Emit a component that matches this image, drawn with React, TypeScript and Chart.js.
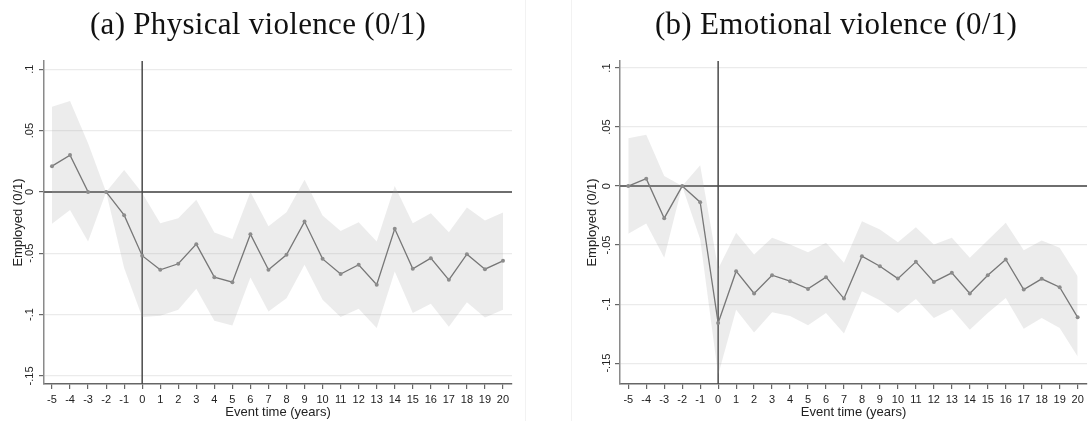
import React, { useEffect, useRef } from "react";
import { Chart, registerables } from "chart.js";

Chart.register(...registerables);

const EVENT_TIME = [-5, -4, -3, -2, -1, 0, 1, 2, 3, 4, 5, 6, 7, 8, 9, 10, 11, 12, 13, 14, 15, 16, 17, 18, 19, 20];
const X_TICKS = [-5, -4, -3, -2, -1, 0, 1, 2, 3, 4, 5, 6, 7, 8, 9, 10, 11, 12, 13, 14, 15, 16, 17, 18, 19, 20];
const Y_TICKS = [0.1, 0.05, 0, -0.05, -0.1, -0.15];
const Y_TICK_LABELS = [".1", ".05", "0", "-.05", "-.1", "-.15"];

const PHYS_COEF = [0.021, 0.030, 0, 0, -0.019, -0.052, -0.0635, -0.0586, -0.0426, -0.0695, -0.0736, -0.0345, -0.0635, -0.0513, -0.0242, -0.0546, -0.067, -0.0594, -0.0757, -0.0301, -0.0627, -0.054, -0.0717, -0.0508, -0.063, -0.0562];
const PHYS_HI = [0.0695, 0.074, 0.0396, 0, 0.0179, -0.001, -0.0255, -0.0214, -0.0065, -0.033, -0.0385, 0, -0.028, -0.0165, 0.0098, -0.0193, -0.0318, -0.0247, -0.0405, 0.0049, -0.0255, -0.0174, -0.0329, -0.0128, -0.0233, -0.0168];
const PHYS_LO = [-0.026, -0.0147, -0.0405, 0, -0.062, -0.102, -0.101, -0.096, -0.079, -0.105, -0.109, -0.0697, -0.0975, -0.0866, -0.0594, -0.088, -0.102, -0.0953, -0.111, -0.0649, -0.0988, -0.0912, -0.110, -0.0899, -0.1023, -0.096];

const EMO_COEF = [0, 0.0063, -0.0272, 0, -0.0136, -0.116, -0.0721, -0.091, -0.0755, -0.0806, -0.0871, -0.0772, -0.0953, -0.0594, -0.0679, -0.0784, -0.0642, -0.0812, -0.0735, -0.091, -0.0755, -0.0622, -0.0877, -0.0786, -0.0857, -0.1112];
const EMO_HI = [0.0405, 0.0436, 0.0085, 0, 0.0176, -0.0701, -0.0396, -0.058, -0.0438, -0.0495, -0.056, -0.048, -0.065, -0.0297, -0.0368, -0.0475, -0.0348, -0.0495, -0.0438, -0.0608, -0.0458, -0.0311, -0.0543, -0.0461, -0.0523, -0.0764];
const EMO_LO = [-0.0404, -0.0317, -0.0608, 0, -0.045, -0.16, -0.1047, -0.124, -0.107, -0.110, -0.118, -0.1075, -0.125, -0.0891, -0.0968, -0.1075, -0.0956, -0.1117, -0.1041, -0.1217, -0.1075, -0.0948, -0.1208, -0.1117, -0.1202, -0.1443];

const TITLES = ["(a) Physical violence (0/1)", "(b) Emotional violence (0/1)"];
const Y_TITLE = "Employed (0/1)";
const X_TITLE = "Event time (years)";

const SANS = "'Liberation Sans', Arial, sans-serif";

type PanelProps = {
  left: number;
  width: number;
  coef: number[];
  lo: number[];
  hi: number[];
  yMin: number;
  yMax: number;
  xMin: number;
  xMax: number;
  padLeft: number;
  padRight: number;
  tickOffset: number;
  titleOffset: number;
};

function Panel(p: PanelProps) {
  const ref = useRef<HTMLCanvasElement | null>(null);
  useEffect(() => {
    if (!ref.current) return;
    const pts = (arr: number[]) => EVENT_TIME.map((x, i) => ({ x, y: arr[i] }));
    const refLines = {
      id: "refLines",
      beforeDatasetsDraw(chart: any) {
        const { ctx, chartArea, scales } = chart;
        const x0 = scales.x.getPixelForValue(0);
        const y0 = scales.y.getPixelForValue(0);
        ctx.save();
        ctx.strokeStyle = "#6e6e6e";
        ctx.lineWidth = 2;
        ctx.beginPath();
        ctx.moveTo(chartArea.left, y0);
        ctx.lineTo(chartArea.right, y0);
        ctx.stroke();
        ctx.strokeStyle = "#4a4a4a";
        ctx.lineWidth = 1.5;
        ctx.beginPath();
        ctx.moveTo(x0, chartArea.top);
        ctx.lineTo(x0, chartArea.bottom);
        ctx.stroke();
        ctx.restore();
      },
    };
    const yLabels = {
      id: "yLabels",
      afterDraw(chart: any) {
        const { ctx, chartArea, scales } = chart;
        ctx.save();
        ctx.fillStyle = "#222";
        ctx.font = `11px ${SANS}`;
        ctx.textAlign = "center";
        ctx.textBaseline = "middle";
        Y_TICKS.forEach((v, i) => {
          const y = scales.y.getPixelForValue(v);
          ctx.save();
          ctx.translate(chartArea.left - p.tickOffset, y);
          ctx.rotate(-Math.PI / 2);
          ctx.fillText(Y_TICK_LABELS[i], 0, 0);
          ctx.restore();
        });
        ctx.font = `13px ${SANS}`;
        ctx.translate(chartArea.left - p.titleOffset, (chartArea.top + chartArea.bottom) / 2);
        ctx.rotate(-Math.PI / 2);
        ctx.fillText(Y_TITLE, 0, 0);
        ctx.restore();
      },
    };
    const chart = new Chart(ref.current, {
      type: "line",
      data: {
        datasets: [
          {
            data: pts(p.coef),
            borderColor: "#777777",
            borderWidth: 1.3,
            pointRadius: 2,
            pointBackgroundColor: "#8c8c8c",
            pointBorderWidth: 0,
            fill: false,
            tension: 0,
          },
          {
            data: pts(p.hi),
            borderWidth: 0,
            pointRadius: 0,
            fill: "+1",
            backgroundColor: "rgba(160,160,160,0.2)",
            tension: 0,
          },
          {
            data: pts(p.lo),
            borderWidth: 0,
            pointRadius: 0,
            fill: false,
            tension: 0,
          },
        ],
      },
      options: {
        animation: false,
        responsive: false,
        maintainAspectRatio: false,
        devicePixelRatio: 1,
        layout: { padding: { top: 61, right: p.padRight, left: p.padLeft, bottom: 0 } },
        plugins: { legend: { display: false }, tooltip: { enabled: false } },
        scales: {
          x: {
            type: "linear",
            min: p.xMin,
            max: p.xMax,
            afterBuildTicks: (s: any) => {
              s.ticks = X_TICKS.map((v) => ({ value: v }));
            },
            afterFit: (s: any) => {
              s.height = 37;
            },
            ticks: {
              autoSkip: false,
              maxRotation: 0,
              minRotation: 0,
              padding: 4,
              color: "#222",
              font: { family: SANS, size: 11 },
              callback: (v: any) => String(v),
            },
            grid: { drawOnChartArea: false, drawTicks: true, tickLength: 5, tickColor: "#666", lineWidth: 1.2 },
            border: { color: "#666", width: 1.5 },
            title: {
              display: true,
              text: X_TITLE,
              color: "#222",
              font: { family: SANS, size: 13 },
              padding: { top: 0, bottom: 1 },
            },
          },
          y: {
            type: "linear",
            min: p.yMin,
            max: p.yMax,
            afterBuildTicks: (s: any) => {
              s.ticks = Y_TICKS.map((v) => ({ value: v }));
            },
            afterFit: (s: any) => {
              s.width = 44;
            },
            ticks: { display: false },
            grid: { color: "#ebebeb", lineWidth: 1.2, drawTicks: true, tickLength: 5, tickColor: "#666" },
            border: { color: "#8a8a8a", width: 1.5 },
          },
        },
      } as any,
      plugins: [refLines, yLabels],
    });
    return () => chart.destroy();
  }, []);
  return (
    <canvas
      ref={ref}
      width={p.width}
      height={421}
      style={{ position: "absolute", left: p.left, top: 0, width: p.width, height: 421, display: "block" }}
    />
  );
}

export default function App() {
  const titleStyle = (center: number): React.CSSProperties => ({
    position: "absolute",
    left: center - 250,
    width: 500,
    top: 8,
    textAlign: "center",
    fontFamily: "'Liberation Serif', 'Times New Roman', serif",
    fontSize: 31,
    lineHeight: "31px",
    letterSpacing: "0.3px",
    color: "#111",
    whiteSpace: "nowrap",
  });
  return (
    <div style={{ position: "absolute", left: 0, top: 0, width: 1091, height: 421, background: "#fff", overflow: "hidden" }}>
      <Panel
        left={0}
        width={545}
        coef={PHYS_COEF}
        lo={PHYS_LO}
        hi={PHYS_HI}
        yMin={-0.1566}
        yMax={0.1067}
        xMin={-5.443}
        xMax={20.5}
        padLeft={0}
        padRight={33}
        tickOffset={14}
        titleOffset={26}
      />
      <Panel
        left={545}
        width={546}
        coef={EMO_COEF}
        lo={EMO_LO}
        hi={EMO_HI}
        yMin={-0.1677}
        yMax={0.106}
        xMin={-5.46}
        xMax={20.52}
        padLeft={31}
        padRight={3}
        tickOffset={13}
        titleOffset={28}
      />
      <div style={{ position: "absolute", left: 525, top: 0, width: 1, height: 421, background: "#f2f2f2" }} />
      <div style={{ position: "absolute", left: 571, top: 0, width: 1, height: 421, background: "#f2f2f2" }} />
      <div style={titleStyle(258)}>{TITLES[0]}</div>
      <div style={titleStyle(836)}>{TITLES[1]}</div>
    </div>
  );
}
